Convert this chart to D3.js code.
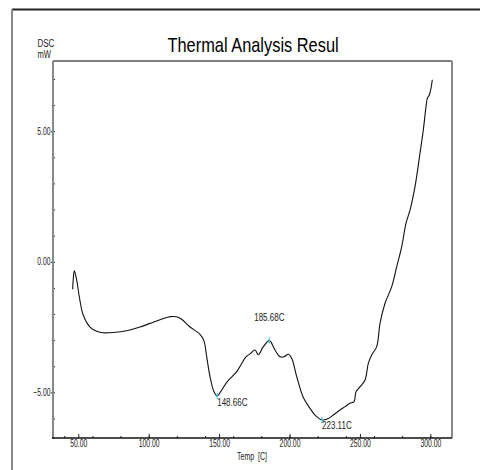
<!DOCTYPE html>
<html>
<head>
<meta charset="utf-8">
<script src="https://cdn.jsdelivr.net/npm/d3@7"></script>
<style>
  body { margin: 0; background: #fff; }
  text { font-family: "Liberation Sans", Arial, sans-serif; fill: #222; }
</style>
</head>
<body>
<div id="chart"></div>
<script>
// DSC trace
var temps = [46.0, 46.45, 47.16, 48.86, 50.71, 53.55, 58.31, 63.07, 67.76, 74.86, 84.38, 93.82, 100.92,
  108.03, 115.63, 122.02, 129.13, 136.23, 139.08, 141.19, 143.54, 146.38, 148.66, 151.85, 155.82,
  162.5, 169.1, 171.95, 175.5, 177.84, 181.39, 185.68, 189.7, 193.25, 196.1, 199.15, 201.56, 205.11,
  209.8, 214.6, 218.1, 223.11, 224.0, 227.56, 231.1, 235.87, 239.42, 242.97, 245.81, 247.23, 250.07,
  253.62, 255.97, 258.38, 261.93, 264.28, 267.83, 272.59, 276.14, 279.69, 282.74, 285.58, 289.13,
  292.68, 295.03, 296.94, 297.87, 299.29, 300.5, 301.42]
var dsc = [-1.05, -0.63, -0.35, -0.70, -1.34, -2.05, -2.50, -2.66, -2.72, -2.71, -2.64, -2.50, -2.36,
  -2.22, -2.10, -2.15, -2.49, -2.77, -3.00, -3.64, -4.40, -4.98, -5.14, -4.91, -4.59,
  -4.21, -3.64, -3.53, -3.38, -3.56, -3.25, -3.02, -3.38, -3.64, -3.64, -3.54, -3.70, -4.40,
  -5.20, -5.62, -5.87, -6.06, -6.06, -6.00, -5.87, -5.68, -5.55, -5.42, -5.36, -4.98, -4.79,
  -4.53, -3.89, -3.57, -3.25, -2.36, -1.59, -0.95, -0.19, 0.58, 1.48, 1.98, 2.88,
  4.16, 5.05, 5.94, 6.26, 6.39, 6.65, 6.97]

var peakTemps = [148.66, 185.68, 223.11]
var peakValues = [-5.14, -3.02, -6.06]
var peakLabels = ["148.66C", "185.68C", "223.11C"]

var xMajorTicks = [50, 100, 150, 200, 250, 300]
var xMinorTicks = [40, 60, 80, 100, 120, 140, 160, 180, 200, 220, 240, 260, 280, 300]
var yMajorTicks = [-5, 0, 5]
var yMinorTicks = [-6, -5, -4, -3, -2, -1, 0, 1, 2, 3, 4, 5, 6, 7]

var width = 480
var height = 470

var svg = d3.select("#chart")
    .append("svg")
    .attr("width", width)
    .attr("height", height)

var x = d3.scaleLinear().domain([32.03, 315.4]).range([53, 452])
var y = d3.scaleLinear().domain([-6.75, 7.69]).range([438, 61])

// squeeze text horizontally, the original uses a narrow face
function squeeze(sel, k) {
  sel.each(function () {
    var w = this.getComputedTextLength()
    d3.select(this).attr("textLength", w * k).attr("lengthAdjust", "spacingAndGlyphs")
  })
}

// outer frame (only top and left show)
svg.append("line").attr("x1", 12).attr("x2", 480).attr("y1", 9.5).attr("y2", 9.5)
  .style("stroke", "#222").style("stroke-width", 2)
svg.append("line").attr("x1", 12).attr("x2", 12).attr("y1", 9.5).attr("y2", 470)
  .style("stroke", "#888").style("stroke-width", 2)

// title
svg.append("text").attr("x", 167.5).attr("y", 52).text("Thermal Analysis Resul")
  .style("font-size", "21px").style("fill", "#000").call(squeeze, 0.78)

svg.append("text").attr("x", 37.5).attr("y", 47).text("DSC").style("font-size", "10px").call(squeeze, 0.8)
svg.append("text").attr("x", 37.5).attr("y", 57.5).text("mW").style("font-size", "10px").call(squeeze, 0.76)

// x axis
var gx = svg.append("g").attr("transform", "translate(0," + y.range()[0] + ")")
gx.call(d3.axisBottom(x).tickValues(xMinorTicks).tickSize(-2).tickFormat(""))
gx.append("g").call(d3.axisBottom(x).tickValues(xMajorTicks).tickSize(-4).tickPadding(2).tickFormat(d3.format(".2f")))
gx.selectAll(".domain").remove()
gx.selectAll("line").style("stroke", "#222")
gx.selectAll("text").style("font-size", "10px").style("fill", "#222").call(squeeze, 0.68)

// y axis
var gy = svg.append("g").attr("transform", "translate(" + x.range()[0] + ",0)")
gy.call(d3.axisLeft(y).tickValues(yMinorTicks).tickSize(-2).tickFormat(""))
gy.append("g").call(d3.axisLeft(y).tickValues(yMajorTicks).tickSize(2).tickPadding(0.5).tickFormat(d3.format(".2f")))
gy.selectAll(".domain").remove()
gy.selectAll("line").style("stroke", "#222")
gy.selectAll("text").style("font-size", "10px").style("fill", "#222").call(squeeze, 0.68)

// plot frame
svg.append("line").attr("x1", x.range()[0]).attr("x2", x.range()[1]).attr("y1", y.range()[1]).attr("y2", y.range()[1])
  .style("stroke", "#555").style("stroke-width", 1.5)
svg.append("line").attr("x1", x.range()[1]).attr("x2", x.range()[1]).attr("y1", y.range()[1]).attr("y2", y.range()[0])
  .style("stroke", "#888").style("stroke-width", 2)
svg.append("line").attr("x1", x.range()[0]).attr("x2", x.range()[0]).attr("y1", y.range()[1]).attr("y2", y.range()[0] + 1)
  .style("stroke", "#888").style("stroke-width", 2)
svg.append("line").attr("x1", x.range()[0] - 1).attr("x2", x.range()[1]).attr("y1", y.range()[0]).attr("y2", y.range()[0])
  .style("stroke", "#111").style("stroke-width", 1.5)

svg.append("text").attr("x", 252).attr("y", 460).attr("text-anchor", "middle").text("Temp  [C]")
  .style("font-size", "10px").style("white-space", "pre").call(squeeze, 0.7)

// the curve
var line = d3.line()
  .x(function (d, i) { return x(temps[i]) })
  .y(function (d) { return y(d) })
  .curve(d3.curveCatmullRom.alpha(0.5))

svg.append("path").datum(dsc).attr("d", line)
  .style("fill", "none").style("stroke", "#111").style("stroke-width", 1.1)

// peak markers and labels
peakTemps.forEach(function (t, i) {
  svg.append("line").attr("x1", x(t)).attr("x2", x(t)).attr("y1", y(peakValues[i]) - 3).attr("y2", y(peakValues[i]) + 3)
    .style("stroke", "#30d8e0").style("stroke-width", 1.2)
})
svg.append("text").attr("x", x(peakTemps[0])).attr("y", y(peakValues[0]) + 10).text(peakLabels[0])
  .style("font-size", "10px").call(squeeze, 0.8)
svg.append("text").attr("x", x(peakTemps[1])).attr("y", y(peakValues[1]) - 20).attr("text-anchor", "middle").text(peakLabels[1])
  .style("font-size", "10px").call(squeeze, 0.8)
svg.append("text").attr("x", x(peakTemps[2])).attr("y", y(peakValues[2]) + 9).text(peakLabels[2])
  .style("font-size", "10px").call(squeeze, 0.8)
</script>
</body>
</html>
